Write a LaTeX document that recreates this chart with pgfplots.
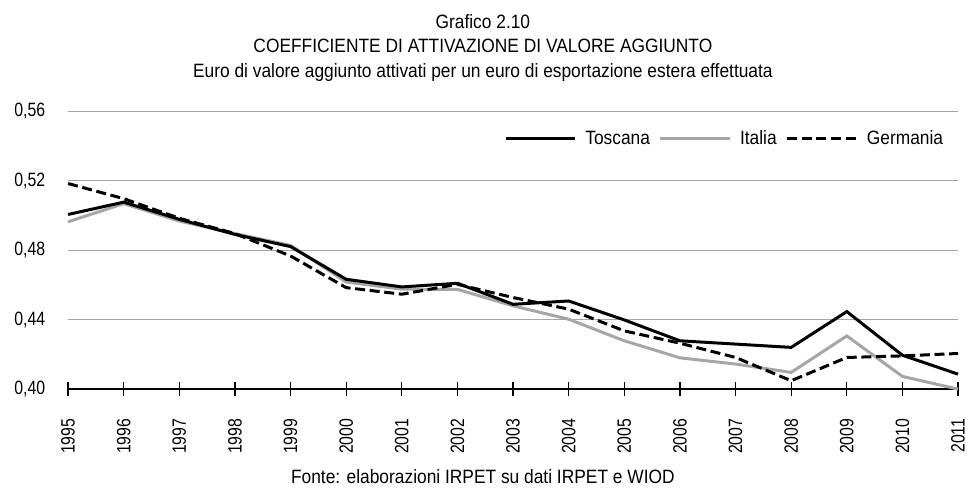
\documentclass[border=0pt]{standalone}
\usepackage{fontspec}
\setmainfont{Liberation Sans}[FakeStretch=0.9]
\newfontfamily\tickfont{Liberation Sans}[FakeStretch=0.82]
\usepackage{pgfplots}
\pgfplotsset{compat=1.18}
\definecolor{italgray}{HTML}{A6A6A6}
\definecolor{gridgray}{HTML}{A6A6A6}
\begin{document}
\fontsize{14.5pt}{17pt}\selectfont
\begin{tikzpicture}
\useasboundingbox (-51.2pt,-75pt) rectangle (676.5pt,292.5pt);
\begin{axis}[
  scale only axis, width=669pt, height=209pt,
  xmin=1995, xmax=2011, ymin=0.40, ymax=0.56,
  clip=false,
  axis x line*=bottom, axis y line*=left,
  y axis line style={draw=none},
  x axis line style={black, line width=1.1pt},
  ytick={0.40,0.44,0.48,0.52,0.56},
  yticklabels={{0,40},{0,44},{0,48},{0,52},{0,56}},
  ymajorgrids, grid style={gridgray, line width=0.8pt},
  ytick style={draw=none},
  xtick={1995,1996,1997,1998,1999,2000,2001,2002,2003,2004,2005,2006,2007,2008,2009,2010,2011},
  xticklabels={1995,1996,1997,1998,1999,2000,2001,2002,2003,2004,2005,2006,2007,2008,2009,2010,2011},
  xtick align=center, major tick length=10pt,
  xtick style={black, line width=1pt},
  tick label style={font=\tickfont},
  yticklabel style={anchor=east, inner sep=0pt, xshift=-17pt},
  xticklabel style={yshift=-17pt, rotate=90, anchor=east, inner sep=0pt},
  legend columns=3,
  legend style={at={(rel axis cs:0.988,0.90)}, anchor=east, draw=none, fill=none,
    column sep=6.75pt, nodes={inner sep=0pt}},
  legend image code/.code={\draw[#1] (0pt,0pt) -- (52pt,0pt);},
]
\addplot[italgray, line width=2.25pt, forget plot] coordinates {
(1995,0.4963) (1996,0.5067) (1997,0.4967) (1998,0.4895) (1999,0.4827)
(2000,0.4616) (2001,0.4575) (2002,0.4574) (2003,0.4479) (2004,0.4402)
(2005,0.4278) (2006,0.4180) (2007,0.4144) (2008,0.4096) (2009,0.4306)
(2010,0.4073) (2011,0.4000)};
\addplot[black, line width=2.25pt, dash pattern=on 7.5pt off 3.5pt, forget plot] coordinates {
(1995,0.5183) (1996,0.5096) (1997,0.4983) (1998,0.4895) (1999,0.4766)
(2000,0.4584) (2001,0.4546) (2002,0.4603) (2003,0.4527) (2004,0.4460)
(2005,0.4335) (2006,0.4264) (2007,0.4182) (2008,0.4048) (2009,0.4182)
(2010,0.4191) (2011,0.4205)};
\addplot[black, line width=2.25pt, forget plot] coordinates {
(1995,0.5005) (1996,0.5076) (1997,0.4977) (1998,0.4890) (1999,0.4820)
(2000,0.4632) (2001,0.4588) (2002,0.4609) (2003,0.4488) (2004,0.4507)
(2005,0.4398) (2006,0.4278) (2007,0.4259) (2008,0.4240) (2009,0.4446)
(2010,0.4195) (2011,0.4086)};
\addlegendimage{black, line width=2.25pt}
\addlegendentry{Toscana\hspace{6pt}}
\addlegendimage{italgray, line width=2.25pt}
\addlegendentry{Italia\hspace{6pt}}
\addlegendimage{black, line width=2.25pt, dash pattern=on 7.5pt off 3.5pt}
\addlegendentry{Germania}
\end{axis}
\node[anchor=base] at (311.8pt,270.75pt) {Grafico 2.10};
\node[anchor=base] at (311.8pt,253.1pt) {COEFFICIENTE DI ATTIVAZIONE DI VALORE AGGIUNTO};
\node[anchor=base] at (311.8pt,234pt) {Euro di valore aggiunto attivati per un euro di esportazione estera effettuata};
\node[anchor=base] at (311.8pt,-71.25pt) {Fonte: elaborazioni IRPET su dati IRPET e WIOD};
\end{tikzpicture}
\end{document}
